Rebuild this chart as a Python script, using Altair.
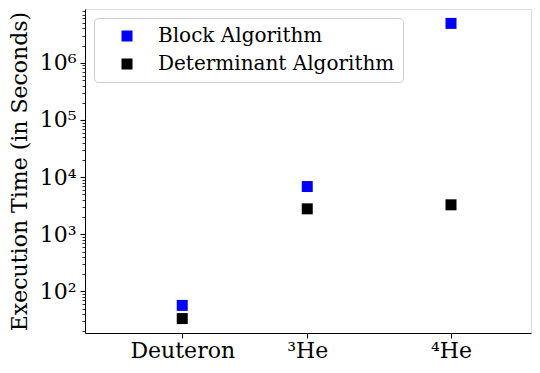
import altair as alt
import pandas as pd

# ---- data ----
nuclei = ["Deuteron", "³He", "⁴He"]
x_index = [1.0, 2.0, 3.15]
block_times = [57, 6850, 4.9e6]
determinant_times = [33.5, 2790, 3280]
series_names = ["Block Algorithm", "Determinant Algorithm"]
series_colors = ["#0000ff", "#000000"]

decades = [100, 1000, 10000, 100000, 1000000]
decade_labels = ["10²", "10³", "10⁴", "10⁵", "10⁶"]
minor_ticks = [m * d for d in [10] + decades for m in range(2, 10) if m * d < 8.7e6]
y_ticks = sorted(decades + minor_ticks)

rows = []
for i, name in enumerate(nuclei):
    rows.append({"nucleus": name, "x": x_index[i], "time": block_times[i], "series": series_names[0]})
    rows.append({"nucleus": name, "x": x_index[i], "time": determinant_times[i], "series": series_names[1]})
df = pd.DataFrame(rows)

FONT = "DejaVu Serif"

y_label_expr = " : ".join(
    f"datum.value == {d} ? '{l}'" for d, l in zip(decades, decade_labels)
) + " : ''"
x_label_expr = " : ".join(
    f"datum.value == {v} ? '{n}'" for v, n in zip(x_index[:-1], nuclei[:-1])
) + f" : '{nuclei[-1]}'"
decade_test = "indexof([" + ",".join(str(d) for d in decades) + "], datum.value) >= 0"

chart = alt.Chart(df).mark_square(size=121, filled=True, opacity=1).encode(
    x=alt.X(
        "x:Q",
        scale=alt.Scale(domain=[0.222, 3.79], nice=False, zero=False),
        axis=alt.Axis(
            values=x_index,
            labelExpr=x_label_expr,
            title=None,
            grid=False,
            labelFont=FONT,
            labelFontSize=22,
            labelColor="black",
            labelPadding=2,
            tickSize=5,
            tickColor="black",
            domainColor="black",
        ),
    ),
    y=alt.Y(
        "time:Q",
        scale=alt.Scale(type="log", domain=[18.75, 8.75e6], nice=False),
        axis=alt.Axis(
            values=y_ticks,
            labelExpr=y_label_expr,
            title="Execution Time (in Seconds)",
            grid=False,
            labelFont=FONT,
            labelFontSize=22,
            labelColor="black",
            labelPadding=4,
            labelBaseline="middle",
            tickSize={"condition": {"test": decade_test, "value": 5}, "value": 3},
            tickWidth={"condition": {"test": decade_test, "value": 1.1}, "value": 0.8},
            tickColor="black",
            domainColor="black",
            titleFont=FONT,
            titleFontSize=22,
            titleFontWeight="normal",
            titleColor="black",
            titleX=-66,
            titleBaseline="middle",
        ),
    ),
    color=alt.Color(
        "series:N",
        scale=alt.Scale(domain=series_names, range=series_colors),
        legend=alt.Legend(
            title=None,
            orient="none",
            legendX=9,
            legendY=9,
            fillColor="white",
            strokeColor="#cccccc",
            cornerRadius=4,
            padding=8,
            labelFont=FONT,
            labelFontSize=20,
            labelColor="black",
            labelLimit=0,
            symbolType="square",
            symbolSize=121,
            symbolStrokeWidth=0,
            symbolOffset=15,
            labelOffset=21,
            rowPadding=8,
        ),
    ),
).properties(
    width=446,
    height=324,
    autosize=alt.AutoSizeParams(type="none"),
    padding={"left": 77, "top": 1, "right": 1, "bottom": 30},
).configure_view(
    stroke="black", strokeWidth=1
).configure(
    font=FONT
)

chart.save("out.html", embed_options={"renderer": "svg", "actions": False})
